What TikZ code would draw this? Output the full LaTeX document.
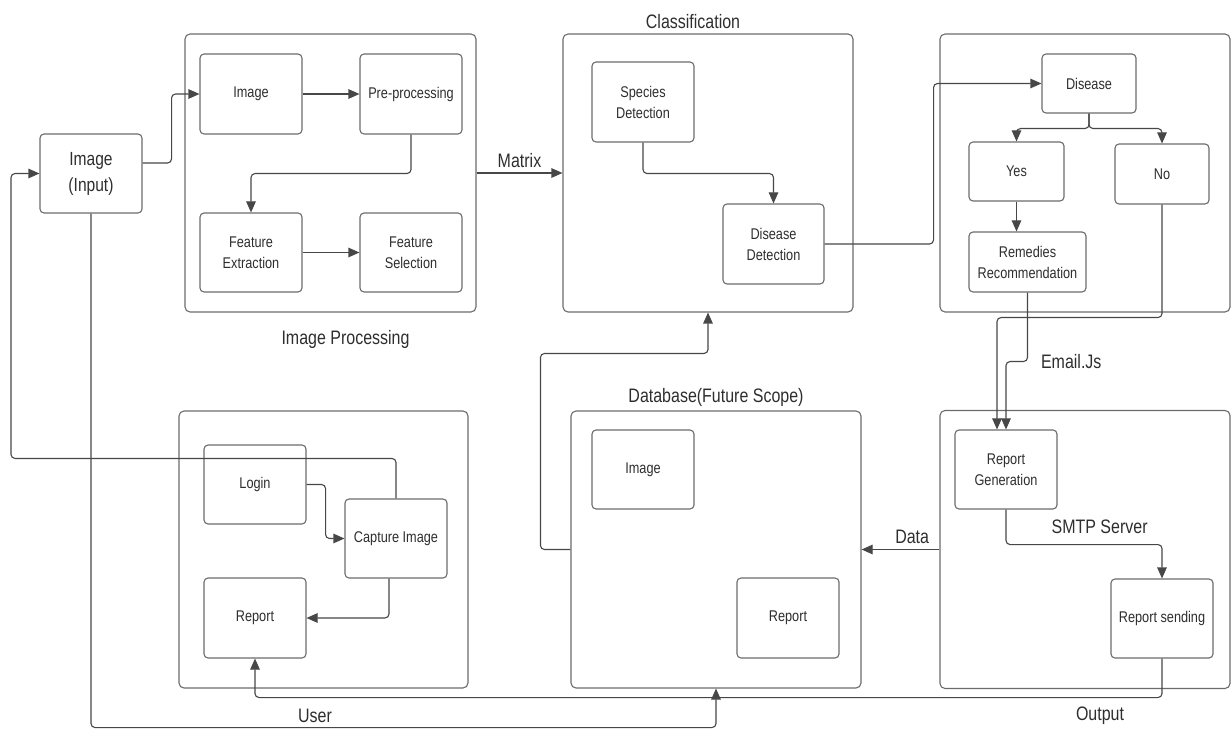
\documentclass[tikz,border=0pt]{standalone}
\usepackage{fontspec}
\setmainfont{Liberation Sans}[FakeStretch=0.82]
\usetikzlibrary{arrows.meta,positioning}

\begin{document}
\begin{tikzpicture}[x=1pt,y=1pt,
  frame/.style={draw=black!58,line width=1.1pt,rounded corners=5pt,minimum width=290pt,minimum height=278pt},
  box/.style={draw=black!58,line width=1.1pt,rounded corners=4pt,minimum width=102pt,minimum height=80pt,
    align=center,inner sep=2pt,text=black!82,font=\fontsize{15.5}{21}\selectfont},
  lbl/.style={inner sep=0pt,text=black!82,font=\fontsize{19.5}{26}\selectfont},
  arr/.style={draw=black!72,line width=1.1pt,rounded corners=4pt,-{Triangle[length=11pt,width=9.5pt]}}]
  \useasboundingbox (0,0) rectangle (1231,729);

  \node[frame,minimum width=291pt] (ipbox) at (330.5,556) {};
  \node[frame] (clsbox) at (708,556) {};
  \node[frame] (disbox) at (1085,556) {};
  \node[frame,minimum width=289pt,minimum height=277pt] (userbox) at (323.5,179.5) {};
  \node[frame,minimum height=277pt] (dbbox) at (716,179.5) {};
  \node[frame] (outbox) at (1085,179.5) {};

  \node[lbl] (iplbl) at ([xshift=15pt,yshift=-27pt]ipbox.south) {Image Processing};
  \node[lbl] (clslbl) at ([xshift=-15pt,yshift=12pt]clsbox.north) {Classification};
  \node[lbl] (dblbl) at ([yshift=13pt]dbbox.north) {Database(Future Scope)};
  \node[lbl] (userlbl) at ([xshift=-8.5pt,yshift=-27pt]userbox.south) {User};
  \node[lbl] (outlbl) at ([xshift=15pt,yshift=-27pt]outbox.south) {Output};

  \node[box,minimum height=79pt,font=\fontsize{19}{26}\selectfont] (input) at (91,555.5) {Image\\(Input)};
  \node[box] (img) at (251,635) {Image};
  \node[box] (pre) at (411,635) {Pre-processing};
  \node[box,minimum height=79pt] (fext) at (251,476.5) {Feature\\Extraction};
  \node[box,minimum height=79pt] (fsel) at (411,476.5) {Feature\\Selection};
  \node[box] (species) at (643,627) {Species\\Detection};
  \node[box,minimum width=101pt] (ddet) at (773.5,485) {Disease\\Detection};
  \node[box,minimum width=94pt,minimum height=59pt] (disease) at (1089,645.5) {Disease};
  \node[box,minimum width=95pt,minimum height=59pt] (yes) at (1016.5,557.5) {Yes};
  \node[box,minimum width=94pt,minimum height=60pt] (no) at (1162,555) {No};
  \node[box,minimum width=117pt,minimum height=60pt] (remedy) at (1027.5,467) {Remedies\\Recommendation};
  \node[box,minimum height=79pt] (login) at (255,244.5) {Login};
  \node[box,minimum height=79pt] (capture) at (396,190.5) {Capture Image};
  \node[box] (ureport) at (255,111) {Report};
  \node[box,minimum height=79pt] (dbimg) at (643,259.5) {Image};
  \node[box] (dbrep) at (788,111) {Report};
  \node[box,minimum height=79pt] (repgen) at (1006,259.5) {Report\\Generation};
  \node[box,minimum height=79pt] (repsend) at (1162,110.5) {Report sending};

  \draw[arr] ([yshift=10.5pt]input.east) -- ++(29,0) |- (img.west);
  \draw[arr] (img.east) -- (pre.west);
  \draw[arr] (pre.south) -- ++(0,-39) -| (fext.north);
  \draw[arr] (fext.east) -- (fsel.west);
  \draw[arr] (ipbox.east) -- node[lbl,above=5pt] {Matrix} (clsbox.west);
  \draw[arr] (species.south) -- ++(0,-31) -| (ddet.north);
  \draw[arr] (ddet.east) -- ++(109,0) |- (disease.west);
  \draw[arr] (disease.south) -- ++(0,-15) -| (yes.north);
  \draw[arr] (disease.south) -- ++(0,-15) -| (no.north);
  \draw[arr] (yes.south) -- (yes.south |- remedy.north);
  \draw[arr] (remedy.south) -- ++(0,-69) node[lbl,right=13pt] {Email.Js} -| (repgen.north);
  \draw[arr] (no.south) -- ++(0,-113) -| ([xshift=-9pt]repgen.north);
  \draw[arr] (repgen.south) -- ++(0,-35) -| node[lbl,above=10pt,pos=0.3] {SMTP Server} (repsend.north);
  \draw[arr] (outbox.west) -- node[lbl,above=5pt,pos=0.35] {Data} (dbbox.east);
  \draw[arr] (dbbox.west) -- ++(-30,0) -- ++(0,196) -| (clsbox.south);
  \draw[arr] (login.east) -- ++(19,0) |- (capture.west);
  \draw[arr] ([xshift=-7pt]capture.south) |- (ureport.east);
  \draw[arr] (capture.north) -- ++(0,40) -- ++(-385,0) |- (input.west);
  \draw[arr] (input.south) -- ++(0,-514) -| (dbbox.south);
  \draw[arr] (repsend.south) -- ++(0,-39) -| (ureport.south);
\end{tikzpicture}
\end{document}
